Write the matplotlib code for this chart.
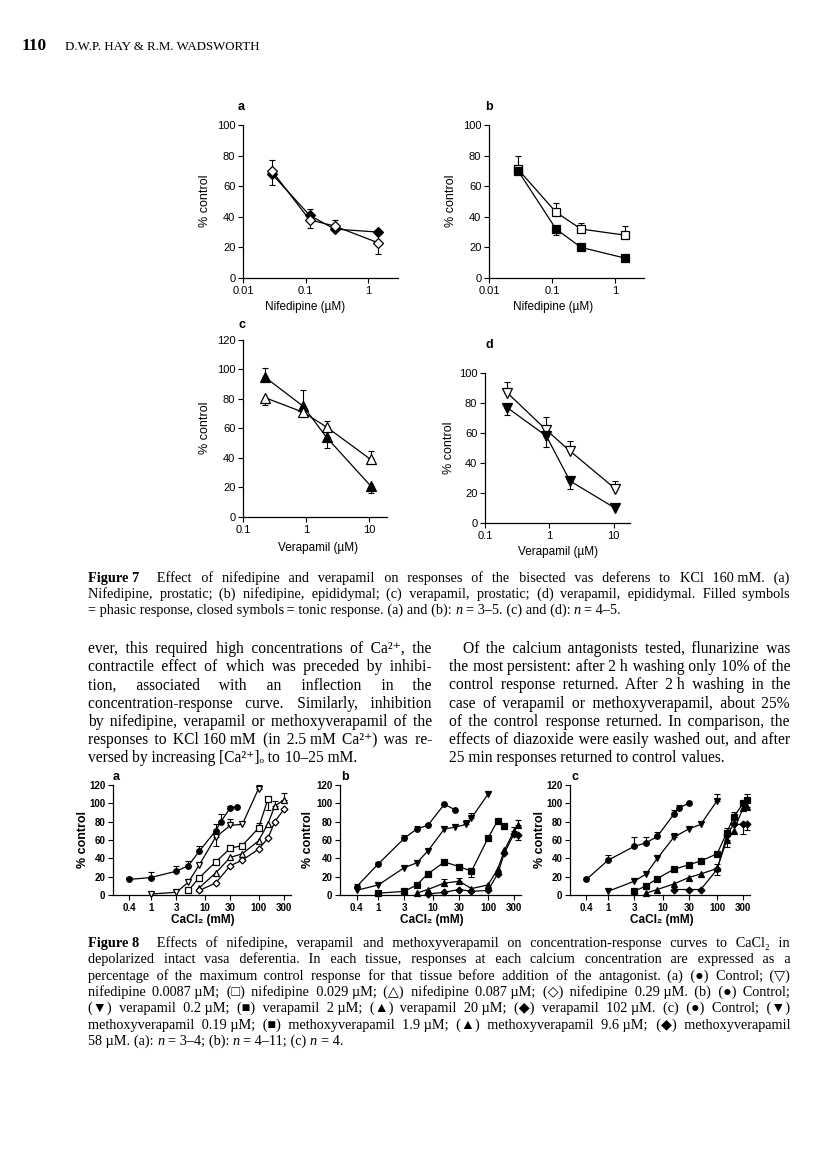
import matplotlib
matplotlib.use('Agg')
import matplotlib.pyplot as plt
from matplotlib import font_manager
from matplotlib.ticker import NullLocator

W, H = 816, 1163
SERIF = ['Liberation Serif', 'DejaVu Serif', 'DejaVu Sans']
SANS = ['Liberation Sans', 'DejaVu Sans']
_names = {f.name for f in font_manager.fontManager.ttflist}
HAS_NARROW = 'Liberation Sans Narrow' in _names
NARROW = (['Liberation Sans Narrow'] if HAS_NARROW else []) + SANS
HAIR = '\u200a'

# ---------------- Figure 7 data ----------------
nif_conc = [0.029, 0.116, 0.29, 1.45]
a_filled = [68, 41, 32, 30]
a_filled_err = [-7, 4, 0, 0]          # +: upper bar, -: lower bar
a_open = [70, 38, 34, 23]
a_open_err = [7, -5, 4, -7]
b_open = [71, 43, 32, 28]
b_open_err = [9, 6, 4, 6]
b_filled = [70, 32, 20, 13]
b_filled_err = [-2, -4, 0, 0]

ver_conc = [0.22, 0.9, 2.1, 10.5]
c_filled = [95, 75, 54, 21]
c_filled_err = [6, 11, -7, -5]
c_open = [81, 71, 61, 39]
c_open_err = [-5, -3, 4, 6]
d_open = [87, 62, 48, 23]
d_open_err = [7, 9, 7, 5]
d_filled = [77, 58, 28, 10]
d_filled_err = [-5, -7, -5, 0]

# ---------------- Figure 8 data ----------------
ca_ticks = [0.4, 1, 3, 10, 30, 100, 300]
ca_labels = ['0.4', '1', '3', '10', '30', '100', '300']

a_ctrl_x = [0.4, 1, 3, 5, 8, 16, 20, 30, 40]
a_ctrl_y = [17, 19, 26, 32, 48, 70, 80, 95, 96]
a_ctrl_e = [3, 6, 6, 5, 6, 8, 8, 2, 0]
a_n1_x = [1, 3, 5, 8, 16, 30, 50, 100]
a_n1_y = [1, 3, 14, 33, 63, 76, 77, 116]
a_n1_e = [0, 0, 0, 0, -10, 7, 0, 4]
a_n2_x = [5, 8, 16, 30, 50, 100, 150]
a_n2_y = [5, 19, 36, 51, 54, 73, 105]
a_n2_e = [0, 0, 0, 3, 0, 6, -12]
a_n3_x = [8, 16, 30, 50, 100, 150, 200, 300]
a_n3_y = [8, 24, 41, 45, 59, 78, 97, 104]
a_n3_e = [0, 0, 0, 0, 0, 0, 6, 7]
a_n4_x = [8, 16, 30, 50, 100, 150, 200, 300]
a_n4_y = [5, 13, 32, 38, 50, 62, 80, 94]
a_n4_e = [0, 0, 0, 0, 0, 0, 0, 0]

b_ctrl_x = [0.4, 1, 3, 5, 8, 16, 25]
b_ctrl_y = [9, 34, 62, 72, 76, 99, 93]
b_ctrl_e = [3, 2, 3, 3, 2, 0, 0]
b_v1_x = [0.4, 1, 3, 5, 8, 16, 25, 40, 50, 100]
b_v1_y = [5, 11, 30, 35, 48, 72, 74, 77, 84, 110]
b_v1_e = [0, 0, 0, 0, 0, 0, 0, 5, 6, 0]
b_v2_x = [1, 3, 5, 8, 16, 30, 50, 100, 150, 200]
b_v2_y = [2, 4, 11, 23, 36, 31, 26, 62, 81, 75]
b_v2_e = [0, 0, 0, 0, 0, 0, -6, 0, 0, 0]
b_v3_x = [5, 8, 16, 30, 50, 100, 150, 200, 300, 350]
b_v3_y = [2, 6, 13, 15, 7, 11, 28, 49, 70, 76]
b_v3_e = [0, 0, 4, 4, 0, 0, 0, 0, 4, 6]
b_v4_x = [8, 16, 30, 50, 100, 150, 200, 300, 350]
b_v4_y = [1, 3, 6, 4, 5, 23, 46, 67, 66]
b_v4_e = [0, 0, 0, 0, 0, 0, 0, 0, -6]

c_ctrl_x = [0.4, 1, 3, 5, 8, 16, 20, 30]
c_ctrl_y = [17, 38, 53, 57, 64, 88, 95, 100]
c_ctrl_e = [0, 6, 10, 6, 5, 5, 3, 0]
c_m1_x = [1, 3, 5, 8, 16, 30, 50, 100]
c_m1_y = [4, 15, 23, 40, 63, 72, 77, 103]
c_m1_e = [0, 0, 0, 0, 5, 0, 0, 7]
c_m2_x = [3, 5, 8, 16, 30, 50, 100, 150, 200, 300, 350]
c_m2_y = [4, 10, 18, 28, 33, 37, 45, 68, 85, 100, 104]
c_m2_e = [0, 0, 0, 0, 0, 0, 0, 5, 6, 3, 6]
c_m3_x = [5, 8, 16, 30, 50, 100, 150, 200, 300, 350]
c_m3_y = [2, 6, 12, 19, 23, 29, 60, 70, 95, 96]
c_m3_e = [0, 0, 0, 0, 0, 5, -8, 0, 0, 6]
c_m4_x = [16, 30, 50, 100, 150, 200, 300, 350]
c_m4_y = [6, 6, 6, 28, 65, 77, 77, 77]
c_m4_e = [0, 0, 0, -6, 0, 0, -10, -6]

# ---------------- text ----------------
header_num = '110'
header_auth = 'D.W.P. HAY & R.M. WADSWORTH'

cap7 = [
    '**Figure~7  Effect of nifedipine and verapamil on responses of the bisected vas deferens to KCl 160~mM. (a)',
    'Nifedipine, prostatic; (b) nifedipine, epididymal; (c) verapamil, prostatic; (d) verapamil, epididymal. Filled symbols',
    '= phasic response, closed symbols = tonic response. (a) and (b): *n = 3–5. (c) and (d): *n = 4–5.',
]
left_col = [
    'ever, this required high concentrations of Ca²⁺, the',
    'contractile effect of which was preceded by inhibi-',
    'tion, associated with an inflection in the',
    'concentration-response curve. Similarly, inhibition',
    'by nifedipine, verapamil or methoxyverapamil of the',
    'responses to KCl~160~mM (in 2.5~mM Ca²⁺) was re-',
    'versed by increasing [Ca²⁺]ₒ to 10–25~mM.',
]
right_col = [
    'Of the calcium antagonists tested, flunarizine was',
    'the most persistent: after 2~h washing only 10% of the',
    'control response returned. After 2~h washing in the',
    'case of verapamil or methoxyverapamil, about 25%',
    'of the control response returned. In comparison, the',
    'effects of diazoxide were easily washed out, and after',
    '25~min responses returned to control values.',
]
cap8 = [
    '**Figure~8  Effects of nifedipine, verapamil and methoxyverapamil on concentration-response curves to CaCl₂ in',
    'depolarized intact vasa deferentia. In each tissue, responses at each calcium concentration are expressed as a',
    'percentage of the maximum control response for that tissue before addition of the antagonist. (a) (●) Control; (▽)',
    'nifedipine 0.0087~µM; (□) nifedipine 0.029~µM; (△) nifedipine 0.087~µM; (◇) nifedipine 0.29~µM. (b) (●) Control;',
    '(▼) verapamil 0.2~µM; (■) verapamil 2~µM; (▲) verapamil 20~µM; (◆) verapamil 102~µM. (c) (●) Control; (▼)',
    'methoxyverapamil 0.19~µM; (■) methoxyverapamil 1.9~µM; (▲) methoxyverapamil 9.6~µM; (◆) methoxyverapamil',
    '58~µM. (a): *n = 3–4; (b): *n = 4–11; (c) *n = 4.',
]

fig = plt.figure(figsize=(W / 100, H / 100), dpi=100)
renderer = fig.canvas.get_renderer()


def fx(x):
    return x / W


def fy(y):
    return 1 - y / H


def text_kw(size, st):
    kw = dict(fontsize=size, family=SERIF, va='baseline', ha='left')
    if st == 'bold':
        kw['fontweight'] = 'bold'
    elif st == 'italic':
        kw['fontstyle'] = 'italic'
    return kw


def measure(s, kw):
    t = fig.text(0, 0, s, **kw)
    w = t.get_window_extent(renderer).width
    t.remove()
    return w


_hair = {}


def hair_width(size, st):
    if (size, st) not in _hair:
        kw = text_kw(size, st)
        _hair[(size, st)] = (measure('x' + HAIR * 50 + 'x', kw) - measure('xx', kw)) / 50
    return _hair[(size, st)]


def line(s, x0, x1, y, size, justify=True):
    toks = []
    for w in s.split(' '):
        st = 'normal'
        if w.startswith('**'):
            st, w = 'bold', w[2:]
        elif w.startswith('*'):
            st, w = 'italic', w[1:]
        toks.append((w.replace('~', ' '), st))
    widths = [measure(w, text_kw(size, st)) if w else 0 for w, st in toks]
    kwn = text_kw(size, 'normal')
    gap = measure('x x', kwn) - measure('xx', kwn)
    if justify and len(toks) > 1:
        gap = (x1 - x0 - sum(widths)) / (len(toks) - 1)
    # group consecutive words of the same style into one text object
    i = 0
    while i < len(toks):
        j = i
        while j + 1 < len(toks) and toks[j + 1][1] == toks[i][1]:
            j += 1
        st = toks[i][1]
        hw = hair_width(size, st)
        start = x0 + sum(widths[:i]) + i * gap
        s_out = toks[i][0]
        used = 0
        for k in range(i + 1, j + 1):
            target = (k - i) * gap
            n = max(0, int(round((target - used) / hw)))
            used += n * hw
            s_out += HAIR * n + toks[k][0]
        fig.text(fx(start), fy(y), s_out, **text_kw(size, st))
        i = j + 1


def block(lines, x0, x1, y0, dy, size, indent=0):
    for i, s in enumerate(lines):
        line(s, x0 + (indent if i == 0 else 0), x1, y0 + i * dy, size,
             justify=(i < len(lines) - 1))


def axes_px(l, t, r, b):
    return fig.add_axes([fx(l), fy(b), (r - l) / W, (b - t) / H])


def style(ax, xlim, xticks, xlabels, ymax, fs, bold):
    ax.set_xscale('log')
    ax.set_xlim(*xlim)
    ax.set_ylim(0, ymax)
    ax.spines[['top', 'right']].set_visible(False)
    for sp in ('left', 'bottom'):
        ax.spines[sp].set_linewidth(0.9)
    ax.set_xticks(xticks, xlabels)
    ax.xaxis.set_minor_locator(NullLocator())
    ax.set_yticks(range(0, ymax + 1, 20))
    ax.tick_params(direction='out', length=3.5, width=0.8, labelsize=fs, pad=2)
    for lab in ax.get_xticklabels() + ax.get_yticklabels():
        lab.set_family(NARROW if bold else SANS)
        lab.set_fontweight('bold' if bold else 'normal')
    ax.patch.set_alpha(0)


def series(ax, x, y, err, marker, filled, ms, lw=0.9):
    ax.plot(x, y, color='k', lw=lw, marker=marker, ms=ms,
            mfc='k' if filled else 'white', mec='k', mew=0.9,
            clip_on=False, zorder=3)
    pts = [(xi, yi, e) for xi, yi, e in zip(x, y, err) if e]
    if pts:
        ex = [p[0] for p in pts]
        ey = [p[1] for p in pts]
        lo = [max(-p[2], 0) for p in pts]
        hi = [max(p[2], 0) for p in pts]
        ax.errorbar(ex, ey, yerr=[lo, hi], fmt='none', ecolor='k',
                    elinewidth=0.8, capsize=2, capthick=0.8,
                    clip_on=False, zorder=2)


def label(x, y, s, size, bold=False, rot=0, ha='center', fam=SANS):
    fig.text(fx(x), fy(y), s, fontsize=size, family=fam, rotation=rot,
             fontweight='bold' if bold else 'normal', ha=ha, va='center')


# header
fig.text(fx(22), fy(50), header_num, fontsize=12.5, family=SERIF, fontweight='bold')
fig.text(fx(65), fy(50), header_auth, fontsize=9.3, family=SERIF)

# ---------------- Figure 7 ----------------
ax = axes_px(243, 125, 398, 278)
style(ax, (0.01, 3), [0.01, 0.1, 1], ['0.01', '0.1', '1'], 100, 8, False)
series(ax, nif_conc, a_filled, a_filled_err, 'D', True, 5.5)
series(ax, nif_conc, a_open, a_open_err, 'D', False, 5.5)
label(241, 107, 'a', 9, True)
label(205, 201, '% control', 9, rot=90)
label(305, 307, 'Nifedipine (µM)', 8.5)

ax = axes_px(489, 125, 644, 278)
style(ax, (0.01, 2.9), [0.01, 0.1, 1], ['0.01', '0.1', '1'], 100, 8, False)
series(ax, nif_conc, b_open, b_open_err, 's', False, 6)
series(ax, nif_conc, b_filled, b_filled_err, 's', True, 6)
label(489, 107, 'b', 9, True)
label(451, 201, '% control', 9, rot=90)
label(553, 307, 'Nifedipine (µM)', 8.5)

ax = axes_px(243, 340, 387, 517)
style(ax, (0.1, 19), [0.1, 1, 10], ['0.1', '1', '10'], 120, 8, False)
series(ax, ver_conc, c_filled, c_filled_err, '^', True, 6.5)
series(ax, ver_conc, c_open, c_open_err, '^', False, 6.5)
label(242, 325, 'c', 9, True)
label(205, 428, '% control', 9, rot=90)
label(318, 548, 'Verapamil (µM)', 8.5)

ax = axes_px(485, 373, 630, 523)
style(ax, (0.1, 18), [0.1, 1, 10], ['0.1', '1', '10'], 100, 8, False)
series(ax, ver_conc, d_open, d_open_err, 'v', False, 6.5)
series(ax, ver_conc, d_filled, d_filled_err, 'v', True, 6.5)
label(489, 345, 'd', 9, True)
label(449, 448, '% control', 9, rot=90)
label(558, 552, 'Verapamil (µM)', 8.5)

block(cap7, 88, 790, 582, 16, 10.3)
block(left_col, 88, 432, 653, 18.2, 11.2)
block(right_col, 449, 790, 653, 18.2, 11.2, indent=14)

# ---------------- Figure 8 ----------------
tfs = 8 if HAS_NARROW else 7
ax = axes_px(113, 785, 291, 895)
style(ax, (0.2, 400), ca_ticks, ca_labels, 120, tfs, True)
series(ax, a_ctrl_x, a_ctrl_y, a_ctrl_e, 'o', True, 4)
series(ax, a_n1_x, a_n1_y, a_n1_e, 'v', False, 4)
series(ax, a_n2_x, a_n2_y, a_n2_e, 's', False, 4)
series(ax, a_n3_x, a_n3_y, a_n3_e, '^', False, 4)
series(ax, a_n4_x, a_n4_y, a_n4_e, 'D', False, 3.5)
label(113, 777, 'a', 9, True, ha='left')
label(83, 840, '% control', 9, True, rot=90, fam=NARROW)
label(203, 920, 'CaCl₂ (mM)', 8.5, True, fam=NARROW)

ax = axes_px(340, 785, 521, 895)
style(ax, (0.2, 400), ca_ticks, ca_labels, 120, tfs, True)
series(ax, b_ctrl_x, b_ctrl_y, b_ctrl_e, 'o', True, 4)
series(ax, b_v1_x, b_v1_y, b_v1_e, 'v', True, 4)
series(ax, b_v2_x, b_v2_y, b_v2_e, 's', True, 4)
series(ax, b_v3_x, b_v3_y, b_v3_e, '^', True, 4)
series(ax, b_v4_x, b_v4_y, b_v4_e, 'D', True, 3.5)
label(341, 777, 'b', 9, True, ha='left')
label(308, 840, '% control', 9, True, rot=90, fam=NARROW)
label(432, 920, 'CaCl₂ (mM)', 8.5, True, fam=NARROW)

ax = axes_px(570, 785, 750, 895)
style(ax, (0.2, 400), ca_ticks, ca_labels, 120, tfs, True)
series(ax, c_ctrl_x, c_ctrl_y, c_ctrl_e, 'o', True, 4)
series(ax, c_m1_x, c_m1_y, c_m1_e, 'v', True, 4)
series(ax, c_m2_x, c_m2_y, c_m2_e, 's', True, 4)
series(ax, c_m3_x, c_m3_y, c_m3_e, '^', True, 4)
series(ax, c_m4_x, c_m4_y, c_m4_e, 'D', True, 3.5)
label(571, 777, 'c', 9, True, ha='left')
label(540, 840, '% control', 9, True, rot=90, fam=NARROW)
label(662, 920, 'CaCl₂ (mM)', 8.5, True, fam=NARROW)

block(cap8, 88, 790, 947, 16.3, 10.3)

fig.savefig('out.png', dpi=100)
